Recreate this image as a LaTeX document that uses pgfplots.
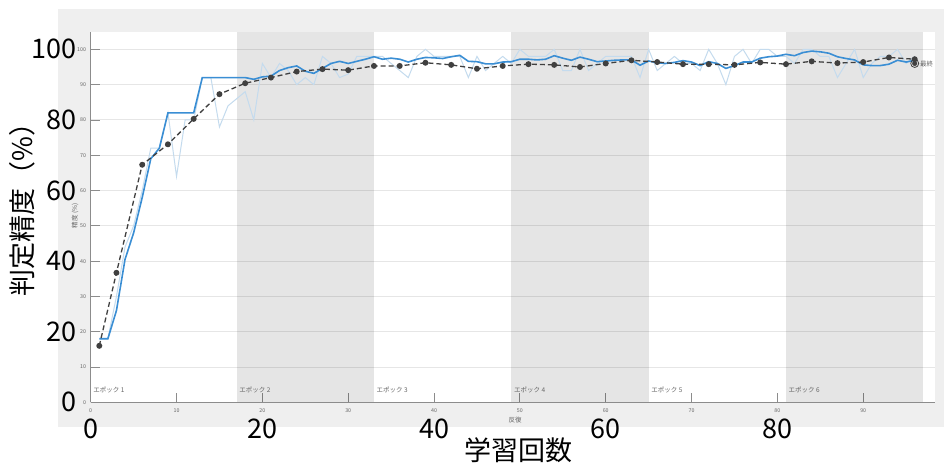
\documentclass[border=0pt]{standalone}
\usepackage{fontspec}
\setmainfont{Noto Sans CJK JP}
\usepackage{pgfplots}
\pgfplotsset{compat=1.18}
\definecolor{outerbg}{HTML}{EFEFEF}
\definecolor{gridc}{HTML}{E6E6E6}
\definecolor{axisc}{HTML}{8C8C8C}
\definecolor{smoothc}{RGB}{58,142,212}
\definecolor{rawc}{RGB}{196,219,238}
\definecolor{valc}{HTML}{404040}
\definecolor{smallt}{HTML}{666666}
\newcommand{\bigf}{\fontsize{27}{27}\selectfont}
\newcommand{\tinyf}{\fontsize{5.3}{5.3}\selectfont}
\newcommand{\smallf}{\fontsize{6.5}{6.5}\selectfont}
\begin{document}
\begin{tikzpicture}
\useasboundingbox (0,0) rectangle (944pt,465pt);
\fill[outerbg] (58pt,38pt) rectangle (944pt,456pt);
\fill[white] (90.7pt,62.7pt) rectangle (935pt,433pt);
\begin{axis}[
  at={(90.7pt,62.7pt)}, anchor=south west,
  scale only axis, width=844.6pt, height=370.6pt,
  xmin=0, xmax=98.4, ymin=0, ymax=105,
  axis x line=bottom, axis y line=left,
  axis line style={-, draw=axisc, line width=0.9pt},
  xtick={0,10,...,90}, ytick={0,10,...,100},
  tick align=inside, major tick length=9pt,
  tick style={draw=axisc, line width=0.8pt},
  ymajorgrids, grid style={gridc, line width=0.9pt},
  /pgf/number format/assume math mode=true,
  tick label style={font=\tinyf, text=smallt, inner sep=0pt},
  xticklabel style={anchor=north}, xticklabel shift=6pt,
  yticklabel style={anchor=east}, yticklabel shift=4.5pt,
  extra x ticks={0,20,40,60,80},
  extra x tick style={major tick length=0pt, xticklabel shift=16pt,
     tick label style={font=\bigf, text=black}},
  extra y ticks={0,20,40,60,80,100},
  extra y tick style={major tick length=0pt, grid=none, yticklabel shift=13.7pt,
     tick label style={font=\bigf, text=black}},
]
% epoch shading
\fill[black, fill opacity=0.1] (axis cs:17,0) rectangle (axis cs:33,105);
\fill[black, fill opacity=0.1] (axis cs:49,0) rectangle (axis cs:65,105);
\fill[black, fill opacity=0.1] (axis cs:81,0) rectangle (axis cs:97,105);
% raw training accuracy
\addplot[rawc, line width=1pt, mark=none] coordinates {
(1,18)(2,18)(3,30)(4,44)(5,50)(6,60)(7,72)(8,72)(9,82)(10,64)
(11,80)(12,80)(13,92)(14,92)(15,78)(16,84)(17,86)(18,88)(19,80)(20,96)
(21,92)(22,96)(23,94)(24,90)(25,92)(26,90)(27,98)(28,96)(29,92)(30,93)
(31,98)(32,98)(33,98)(34,98)(35,96)(36,94)(37,92)(38,98)(39,100)(40,98)
(41,98)(42,98)(43,98)(44,92)(45,98)(46,94)(47,96)(48,98)(49,96)(50,100)
(51,98)(52,98)(53,98)(54,100)(55,94)(56,94)(57,100)(58,94)(59,96)(60,98)
(61,98)(62,98)(63,98)(64,92)(65,100)(66,94)(67,96)(68,98)(69,96)(70,96)
(71,94)(72,100)(73,96)(74,90)(75,98)(76,100)(77,96)(78,100)(79,100)(80,98)
(81,98)(82,96)(83,100)(84,100)(85,98)(86,98)(87,92)(88,96)(89,100)(90,92)
(91,96)(92,98)(93,98)(94,100)(95,96)(96,98)
};
% smoothed training accuracy
\addplot[smoothc, line width=1.6pt, mark=none] coordinates {
(1,18)(2,18)(3,26)(4,40.5)(5,48)(6,58)(7,69)(8,72)(9,82)(10,82)
(11,82)(12,82)(13,92)(14,92)(15,92)(16,92)(17,92)(18,92)(19,91.5)(20,92.2)
(21,92.4)(22,94)(23,94.8)(24,95.3)(25,93.8)(26,93.2)(27,94.6)(28,96)(29,96.6)(30,96)
(31,96.6)(32,97.2)(33,97.9)(34,97.2)(35,97.5)(36,97.2)(37,96.4)(38,97.2)(39,97.7)(40,97.6)
(41,97.4)(42,97.9)(43,98.3)(44,96.6)(45,96.5)(46,95.9)(47,95.9)(48,96.4)(49,96.5)(50,97.2)
(51,97.2)(52,97.0)(53,97.2)(54,98.2)(55,97.5)(56,96.9)(57,97.8)(58,97.2)(59,96.5)(60,96.7)
(61,96.9)(62,97.0)(63,97.0)(64,95.5)(65,96.7)(66,96.2)(67,96.0)(68,96.3)(69,96.8)(70,96.4)
(71,95.4)(72,96.5)(73,96.0)(74,94.6)(75,95.4)(76,96.4)(77,96.4)(78,97.5)(79,97.9)(80,98.1)
(81,98.6)(82,98.2)(83,99.1)(84,99.5)(85,99.3)(86,98.9)(87,97.9)(88,97.4)(89,97.0)(90,95.6)
(91,95.4)(92,95.4)(93,95.8)(94,96.9)(95,96.4)(96,96.9)
};
% validation accuracy
\addplot[valc, line width=1.3pt, dash pattern=on 5pt off 3pt, mark=*, mark size=2.3pt,
  mark options={solid, fill=valc}] coordinates {
(1,16)(3,36.7)(6,67.3)(9,73.1)(12,80.3)(15,87.3)(18,90.4)(21,92.0)(24,93.7)(27,94.4)
(30,94.1)(33,95.3)(36,95.3)(39,96.2)(42,95.6)(45,94.5)(48,95.3)(51,95.8)(54,95.6)(57,95.0)
(60,96.0)(63,96.9)(66,96.4)(69,95.8)(72,95.8)(75,95.6)(78,96.3)(81,95.8)(84,96.6)(87,96.1)
(90,96.4)(93,97.7)(96,97.2)
};
% final validation
\addplot[only marks, mark=*, mark size=2.3pt, valc, mark options={fill=valc}] coordinates {(96,96.0)};
\addplot[only marks, mark=o, mark size=4pt, valc, mark options={line width=0.8pt}] coordinates {(96,96.0)};
\node[anchor=west, font=\smallf, text=smallt, inner sep=0pt] at (axis cs:96.6,95.8) {最終};
% epoch labels
\node[anchor=west, font=\smallf, text=smallt, inner sep=0pt] at (axis cs:0.3,3.5) {エポック 1};
\node[anchor=west, font=\smallf, text=smallt, inner sep=0pt] at (axis cs:17.3,3.5) {エポック 2};
\node[anchor=west, font=\smallf, text=smallt, inner sep=0pt] at (axis cs:33.3,3.5) {エポック 3};
\node[anchor=west, font=\smallf, text=smallt, inner sep=0pt] at (axis cs:49.3,3.5) {エポック 4};
\node[anchor=west, font=\smallf, text=smallt, inner sep=0pt] at (axis cs:65.3,3.5) {エポック 5};
\node[anchor=west, font=\smallf, text=smallt, inner sep=0pt] at (axis cs:81.3,3.5) {エポック 6};
\end{axis}
% small inner axis titles
\node[font=\smallf, text=smallt, rotate=90] at (75pt,249pt) {精度 (\%)};
\node[font=\smallf, text=smallt] at (515pt,45pt) {反復};
% big overlaid axis titles
\node[font=\bigf, rotate=90] at (22pt,262pt) {判定精度（\%）};
\node[font=\bigf] at (518pt,15pt) {学習回数};
\end{tikzpicture}
\end{document}
